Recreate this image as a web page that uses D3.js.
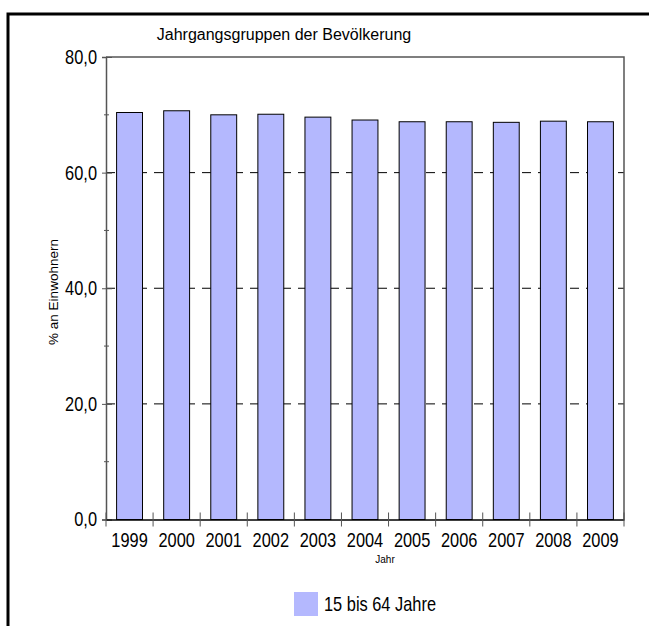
<!DOCTYPE html>
<html lang="de">
<head>
<meta charset="UTF-8">
<title>Jahrgangsgruppen der Bevölkerung</title>
<script src="https://d3js.org/d3.v7.min.js"></script>
<style>
  body { margin: 0; background: #fff; }
  .narrow { font-family: "Liberation Sans", Arial, sans-serif; font-size: 20px; }
  .plain { font-family: "Liberation Sans", Arial, sans-serif; }
</style>
</head>
<body>
<svg id="chart" width="649" height="626"></svg>
<script>
// data
const years = ['1999', '2000', '2001', '2002', '2003', '2004', '2005', '2006', '2007', '2008', '2009'];
const values = [70.4, 70.7, 70.0, 70.1, 69.6, 69.1, 68.8, 68.8, 68.7, 68.9, 68.8];
const yMajor = [0, 20, 40, 60, 80];
const yMinor = [10, 30, 50, 70];
const gridVals = [20, 40, 60];
const seriesName = '15 bis 64 Jahre';

const svg = d3.select('#chart');

const pLeft = 106, pRight = 624, pTop = 57, pBottom = 519.5;
const squeeze = 0.82; // no narrow font installed, so squeeze the sans

// outer frame (runs off to the right and bottom)
svg.append('rect')
  .attr('x', 8).attr('y', 14)
  .attr('width', 700).attr('height', 700)
  .attr('fill', 'none')
  .attr('stroke', '#000')
  .attr('stroke-width', 3);

const x = d3.scaleBand()
  .domain(years)
  .range([pLeft, pRight])
  .paddingInner(0.45)
  .paddingOuter(0.225);

const y = d3.scaleLinear()
  .domain([0, 80])
  .range([pBottom, pTop]);

// dashed grid
svg.append('g')
  .selectAll('line')
  .data(gridVals)
  .join('line')
  .attr('x1', pLeft).attr('x2', pRight)
  .attr('y1', d => y(d)).attr('y2', d => y(d))
  .attr('stroke', '#000')
  .attr('stroke-dasharray', '9,7');

// frame top + right
svg.append('path')
  .attr('d', `M${pLeft},${pTop}H${pRight}V${pBottom}`)
  .attr('fill', 'none')
  .attr('stroke', '#555')
  .attr('stroke-width', 1.5);

// bars
svg.append('g')
  .selectAll('rect')
  .data(years)
  .join('rect')
  .attr('x', (d) => x(d))
  .attr('y', (d, i) => y(values[i]))
  .attr('width', x.bandwidth())
  .attr('height', (d, i) => y(0) - y(values[i]))
  .attr('fill', '#b4b8fe')
  .attr('stroke', '#000')
  .attr('stroke-width', 1);

// y axis
const yAxis = svg.append('g')
  .attr('transform', `translate(${pLeft},0)`)
  .call(d3.axisLeft(y).tickValues(yMajor).tickSize(4)
    .tickFormat(d => d3.format('.1f')(d).replace('.', ',')));
yAxis.select('.domain').attr('stroke', '#555').attr('stroke-width', 1.5);
yAxis.selectAll('.tick line').attr('x1', 6).attr('x2', -4).attr('stroke', '#555');
yAxis.selectAll('.tick text')
  .attr('class', 'narrow')
  .attr('x', 0)
  .attr('transform', `translate(-9,0) scale(${squeeze},1)`)
  .attr('fill', '#000');

svg.append('g')
  .selectAll('line')
  .data(yMinor)
  .join('line')
  .attr('x1', pLeft - 2).attr('x2', pLeft + 3)
  .attr('y1', d => y(d)).attr('y2', d => y(d))
  .attr('stroke', '#555');

// x axis
const xAxis = svg.append('g')
  .attr('transform', `translate(0,${pBottom})`)
  .call(d3.axisBottom(x).tickSize(0).tickPadding(13));
xAxis.select('.domain').attr('stroke', '#000').attr('stroke-width', 1.5);
xAxis.selectAll('.tick text')
  .attr('class', 'narrow')
  .attr('transform', `scale(${squeeze},1)`)
  .attr('fill', '#000');

// ticks between the categories
const step = x.step();
svg.append('g')
  .selectAll('line')
  .data(d3.range(years.length + 1))
  .join('line')
  .attr('x1', i => pLeft + i * step).attr('x2', i => pLeft + i * step)
  .attr('y1', pBottom - 7).attr('y2', pBottom + 7)
  .attr('stroke', '#555');

// titles
svg.append('text')
  .attr('class', 'plain')
  .attr('x', 284).attr('y', 40)
  .attr('text-anchor', 'middle')
  .attr('font-size', 16)
  .text('Jahrgangsgruppen der Bevölkerung');

svg.append('text')
  .attr('class', 'plain')
  .attr('transform', 'translate(58,292) rotate(-90)')
  .attr('text-anchor', 'middle')
  .attr('font-size', 13.5)
  .text('% an Einwohnern');

svg.append('text')
  .attr('class', 'plain')
  .attr('x', 385).attr('y', 563)
  .attr('text-anchor', 'middle')
  .attr('font-size', 10)
  .text('Jahr');

// legend
svg.append('rect')
  .attr('x', 294).attr('y', 592)
  .attr('width', 24).attr('height', 24)
  .attr('fill', '#b4b8fe');
svg.append('text')
  .attr('class', 'narrow')
  .attr('transform', `translate(324,611) scale(${squeeze},1)`)
  .text(seriesName);
</script>
</body>
</html>
